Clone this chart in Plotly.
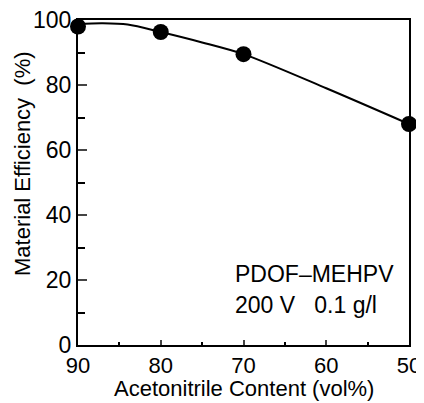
import plotly.graph_objects as go

# measured points
acn = [90, 80, 70, 50]
eff = [98.0, 96.3, 89.5, 68]

# fitted curve
curve_x = [90, 87, 84, 80, 75, 70, 60, 50]
curve_y = [98.8, 99.0, 98.6, 96.3, 93.1, 89.5, 79, 68]

font = "Liberation Sans, Arial, sans-serif"

fig = go.Figure()
fig.add_trace(go.Scatter(x=curve_x, y=curve_y, mode="lines", line=dict(color="black", width=2, shape="spline", smoothing=0.8),
                         showlegend=False, hoverinfo="skip", cliponaxis=False))
fig.add_trace(go.Scatter(x=acn, y=eff, mode="markers", marker=dict(color="black", size=16), showlegend=False, cliponaxis=False))

fig.add_annotation(x=0.468, y=0.172, xref="x domain", yref="y domain", text="PDOF\u2013MEHPV", showarrow=False,
                   xanchor="left", font=dict(family=font, size=23, color="black"))
fig.add_annotation(x=0.468, y=0.077, xref="x domain", yref="y domain", text="200 V&nbsp;&nbsp;&nbsp;0.1 g/l", showarrow=False,
                   xanchor="left", font=dict(family=font, size=23, color="black"))

# axis titles as free text
fig.add_annotation(x=0.5, y=-0.133, xref="paper", yref="paper", yanchor="middle", text="Acetonitrile Content (vol%)",
                   showarrow=False, font=dict(family=font, size=22, color="black"))
fig.add_annotation(x=-0.21, y=0.56, xref="paper", yref="paper", text="Material Efficiency  (%)", showarrow=False,
                   textangle=-90, font=dict(family=font, size=22, color="black"))

fig.update_xaxes(range=[90, 50], tickvals=[90, 80, 70, 60, 50], ticks="inside", ticklen=5, tickwidth=1.5,
                 minor=dict(dtick=5, ticks="inside", ticklen=3, tickcolor="black"),
                 showline=True, linecolor="black", linewidth=2, mirror=True, showgrid=False, zeroline=False,
                 tickfont=dict(family=font, size=22, color="black"), automargin=False, ticklabeloverflow="allow",
                 ticklabelstandoff=0)
fig.update_yaxes(range=[0, 100], tickvals=[0, 20, 40, 60, 80, 100], ticks="inside", ticklen=9, tickwidth=1.5,
                 minor=dict(dtick=10, ticks="inside", ticklen=7, tickcolor="black"),
                 showline=True, linecolor="black", linewidth=2, mirror=True, showgrid=False, zeroline=False,
                 tickfont=dict(family=font, size=23, color="black"), automargin=False, ticklabeloverflow="allow")

# page body adds an 8px margin, so the figure is 8px smaller on each axis
fig.update_layout(width=416, height=395, margin=dict(l=70, r=15, t=12, b=58),
                  plot_bgcolor="white", paper_bgcolor="white")

fig.write_html("out.html")
